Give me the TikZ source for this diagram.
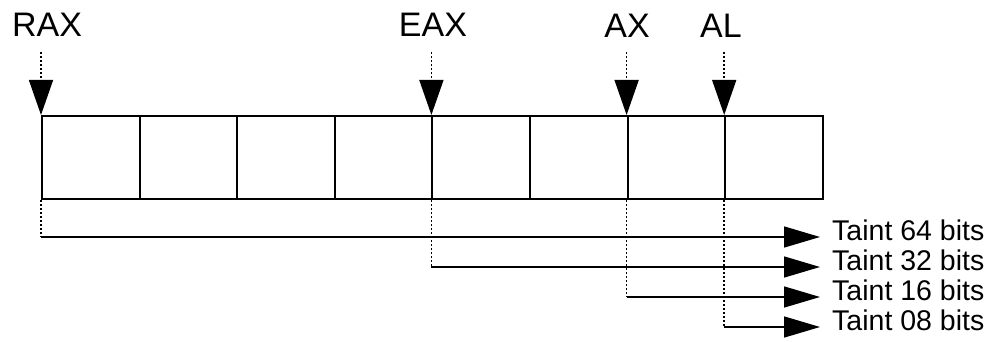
\documentclass[tikz,border=0pt]{standalone}
\usepackage{fontspec}
\setmainfont{Liberation Sans}
\usetikzlibrary{arrows.meta}
\begin{document}
\begin{tikzpicture}[x=1pt,y=-1pt,
        cell/.style={draw,line width=2pt,minimum width=97.6pt,minimum height=83pt,inner sep=0,anchor=north west},
        reg/.style={anchor=base,inner sep=0,font=\fontsize{34}{40}\selectfont},
        taint/.style={anchor=base west,inner sep=0,font=\fontsize{28.5}{32}\selectfont},
        pointer/.style={line width=1.5pt,dash pattern=on 2pt off 2pt,-{Triangle[length=35pt,width=24pt]}},
        drop/.style={line width=1.5pt,dash pattern=on 2pt off 2pt},
        feed/.style={line width=1.5pt,-{Triangle[length=36pt,width=21pt]}}]
        \useasboundingbox (0,0) rectangle (985,342);
        \foreach \i in {1,...,8}
            \node[cell] (c\i) at ({41+(\i-1)*97.6},115) {};
        \node[reg] (rax) at (47,37) {RAX};
        \node[reg] (eax) at (433,37) {EAX};
        \node[reg] (ax) at (627,38) {AX};
        \node[reg] (al) at (721,38) {AL};
        \draw[pointer] ([yshift=63pt]c1.north west) -- (c1.north west);
        \draw[pointer] ([yshift=63pt]c5.north west) -- (c5.north west);
        \draw[pointer] ([yshift=63pt]c7.north west) -- (c7.north west);
        \draw[pointer] ([yshift=63pt]c8.north west) -- (c8.north west);
        \coordinate (e64) at (820,237);
        \coordinate (e32) at (820,267);
        \coordinate (e16) at (820,297);
        \coordinate (e08) at (820,327);
        \node[taint] (t64) at (832,240) {Taint 64 bits};
        \node[taint] (t32) at (832,270) {Taint 32 bits};
        \node[taint] (t16) at (832,300) {Taint 16 bits};
        \node[taint] (t08) at (832,330) {Taint 08 bits};
        \draw[drop] (c1.south west) -- (c1.south west |- e64);
        \draw[feed] (c1.south west |- e64) -- (e64);
        \draw[drop] (c5.south west) -- (c5.south west |- e32);
        \draw[feed] (c5.south west |- e32) -- (e32);
        \draw[drop] (c7.south west) -- (c7.south west |- e16);
        \draw[feed] (c7.south west |- e16) -- (e16);
        \draw[drop] (c8.south west) -- (c8.south west |- e08);
        \draw[feed] (c8.south west |- e08) -- (e08);
    \end{tikzpicture}
\end{document}
